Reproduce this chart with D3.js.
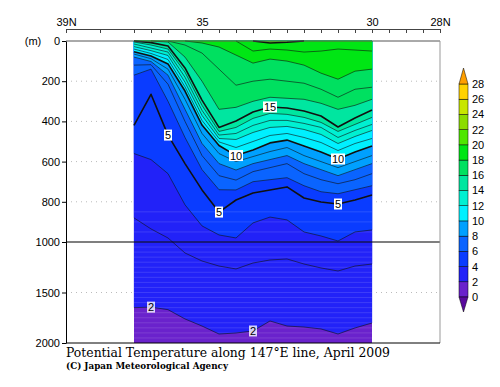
<!DOCTYPE html>
<html>
<head>
<meta charset="utf-8">
<script src="https://cdn.jsdelivr.net/npm/d3@7/dist/d3.min.js"></script>
<style>
  body { margin: 0; background: #fff; }
</style>
</head>
<body>
<div id="chart"></div>
<script>
// stations along the 147E line (deg N)
const lats = [37, 36.5, 36, 35.5, 35, 34.5, 34, 33.5, 33, 32.5, 32, 31.5, 31, 30.5, 30];

// depth (m) of each isotherm at each station, 0 = isotherm not present (outcropped)
const iso2  = [1650,1645,1670,1762,1832,1911,1901,1881,1782,1832,1842,1861,1911,1851,1802];
const iso3  = [880,935,980,1109,1188,1238,1267,1208,1178,1168,1218,1257,1287,1238,1218];
const iso4  = [560,590,660,815,920,965,980,905,876,890,950,970,995,950,940];
const iso5  = [420,265,468,610,741,851,791,756,741,726,781,801,811,791,766];
const iso6  = [170,140,300,480,640,740,741,700,690,680,720,750,760,740,720];
const iso7  = [120,118,215,400,570,670,692,650,630,610,660,690,710,690,660];
const iso8  = [80,102,170,340,510,610,642,610,590,570,610,640,670,640,610];
const iso9  = [65,88,140,290,460,560,600,575,550,530,570,600,630,600,570];
const iso10 = [53,75,114,249,418,520,570,542,507,493,522,552,587,552,522];
const iso11 = [40,62,92,228,395,502,530,500,470,460,480,505,545,510,485];
const iso12 = [28,48,72,205,370,485,490,455,430,425,440,465,510,475,445];
const iso13 = [15,35,55,180,345,468,460,420,395,395,410,430,480,445,415];
const iso14 = [5,20,40,155,320,450,430,385,360,365,380,405,450,415,380];
const iso15 = [0,8,25,134,294,430,398,353,328,333,348,373,428,383,343];
const iso16 = [0,0,5,80,200,340,330,300,280,285,290,310,340,320,290];
const iso17 = [0,0,0,20,60,140,220,200,190,200,210,240,280,240,230];
const iso18 = [0,0,0,0,10,30,70,110,90,100,120,160,190,150,140];
const iso19 = [0,0,0,0,0,0,0,50,40,45,55,50,40,45,50];
const iso20 = [0,0,0,0,0,0,0,0,10,6,0,0,0,0,0];

const isoLevels = [2,3,4,5,6,7,8,9,10,11,12,13,14,15,16,17,18,19,20];
const isoDepths = [iso2,iso3,iso4,iso5,iso6,iso7,iso8,iso9,iso10,iso11,iso12,iso13,iso14,iso15,iso16,iso17,iso18,iso19,iso20];

// contour labels: [level, station index]
const contourLabels = [[15,8],[10,6],[10,12],[5,2],[5,5],[5,12],[2,1],[2,7]];

const latTicks = [39,38,37,36.5,36,35.5,35,34.5,34,33.5,33,32.5,32,31.5,31,30.5,30,29.5,29,28.5,28];
const latLabels = {39:"39N", 35:"35", 30:"30", 28:"28N"};
const depthTicks = [0,200,400,600,800,1000,1500,2000];
const gridDepths = [200,400,600,800,1500];

// colour scale: <0, 0-2, 2-4, ... 26-28, >28
const colorLevels = [0,2,4,6,8,10,12,14,16,18,20,22,24,26,28];
const colors = ["#5a0a9e","#6a22cc","#2222f8","#0a3cff","#0a64ff","#00a0ff","#00f0ff","#00f0d2",
                "#00e6a0","#00e060","#00e614","#50e600","#8cdc00","#c8e600","#ffd200","#ff9f00"];

const sans = "'Liberation Sans', Arial, sans-serif";
const serif = "'DejaVu Serif', serif";

const W = 500, H = 387;
const svg = d3.select("#chart").append("svg")
  .attr("width", W).attr("height", H)
  .style("font-family", sans);

const x = d3.scaleLinear().domain([39, 28]).range([66, 440]);
const y = d3.scaleLinear().domain([0, 1000, 2000]).range([41, 242, 343]);

const bandColor = k => colors[Math.floor(k / 2) + 1];

// dotted grid lines
svg.append("g").selectAll("line")
  .data(gridDepths)
  .join("line")
    .attr("x1", 66).attr("x2", 440)
    .attr("y1", d => y(d)).attr("y2", d => y(d))
    .attr("stroke", "#bbb").attr("stroke-dasharray", "1,4");

// filled bands: background is the 0-2 class, then paint from surface down to each isotherm
const data = svg.append("g");
data.append("rect")
  .attr("x", x(lats[0])).attr("y", y(0))
  .attr("width", x(lats[lats.length - 1]) - x(lats[0]))
  .attr("height", y(2000) - y(0))
  .attr("fill", colors[1]);

const area = d3.area()
  .x((d, i) => x(lats[i]))
  .y0(y(0))
  .y1(d => y(d));

isoLevels.forEach((k, j) => {
  data.append("path")
    .datum(isoDepths[j])
    .attr("fill", bandColor(k))
    .attr("stroke", bandColor(k))
    .attr("stroke-width", 0.3)
    .attr("d", area);
});

// faint stripes seen in the deep part of the section
data.append("g").selectAll("line")
  .data(d3.range(850, 2000, 50))
  .join("line")
    .attr("x1", x(lats[0])).attr("x2", x(lats[lats.length - 1]))
    .attr("y1", d => y(d)).attr("y2", d => y(d))
    .attr("stroke", "#fff").attr("stroke-opacity", 0.18).attr("stroke-width", 0.7);

// contour lines
const line = d3.line()
  .defined((d, i, arr) => d > 0 || (i > 0 && arr[i - 1] > 0) || (i < arr.length - 1 && arr[i + 1] > 0))
  .x((d, i) => x(lats[i]))
  .y(d => y(d));

isoLevels.forEach((k, j) => {
  data.append("path")
    .datum(isoDepths[j])
    .attr("fill", "none")
    .attr("stroke", "#111")
    .attr("stroke-width", k % 5 === 0 ? 1.6 : 0.6)
    .attr("stroke-linejoin", "round")
    .attr("d", line);
});

// 1000 m line
svg.append("line")
  .attr("x1", 66).attr("x2", 440)
  .attr("y1", y(1000)).attr("y2", y(1000))
  .attr("stroke", "#000").attr("stroke-width", 1.2);

// contour labels
const lab = svg.append("g").selectAll("g")
  .data(contourLabels)
  .join("g")
    .attr("transform", d => `translate(${x(lats[d[1]])},${y(isoDepths[isoLevels.indexOf(d[0])][d[1]])})`);
lab.append("rect")
  .attr("x", d => d[0] >= 10 ? -7 : -4)
  .attr("y", -5.5)
  .attr("width", d => d[0] >= 10 ? 14 : 8)
  .attr("height", 11)
  .attr("fill", "#fff")
  .attr("fill-opacity", d => d[0] === 2 ? 0.8 : 1);
lab.append("text")
  .attr("text-anchor", "middle")
  .attr("dy", "0.36em")
  .attr("font-size", 11)
  .attr("fill", "#000")
  .text(d => d[0]);

// frame
svg.append("line").attr("x1", 66).attr("x2", 440).attr("y1", 41).attr("y2", 41).attr("stroke", "#555");
svg.append("line").attr("x1", 440).attr("x2", 440).attr("y1", 41).attr("y2", 343).attr("stroke", "#999");
svg.append("line").attr("x1", 66).attr("x2", 440).attr("y1", 343).attr("y2", 343).attr("stroke", "#000");

// top latitude axis
svg.append("g")
  .attr("transform", "translate(0,29)")
  .call(d3.axisTop(x).tickValues(latTicks).tickSize(-4).tickSizeOuter(0).tickPadding(3)
    .tickFormat(d => latLabels[d] || ""))
  .call(g => g.selectAll("text").attr("font-size", 11).attr("font-family", null).attr("fill", "#000"))
  .call(g => g.selectAll("line,path").attr("stroke", "#444"));

// left depth axis
svg.append("g")
  .attr("transform", "translate(66,0)")
  .call(d3.axisLeft(y).tickValues(depthTicks).tickSize(4).tickSizeOuter(0).tickPadding(2)
    .tickFormat(d3.format("d")))
  .call(g => g.selectAll("text").attr("font-size", 11).attr("font-family", null).attr("fill", "#000"))
  .call(g => g.selectAll("line,path").attr("stroke", "#000"));

svg.append("text")
  .attr("x", 33).attr("y", y(0)).attr("dy", "0.36em")
  .attr("text-anchor", "middle").attr("font-size", 11)
  .text("(m)");

// colour bar
const cy = d3.scaleLinear().domain([0, 28]).range([297, 84]);
const cbX = 459, cbW = 9;
const cb = svg.append("g");
colorLevels.slice(0, -1).forEach((v, i) => {
  cb.append("rect")
    .attr("x", cbX).attr("y", cy(v + 2))
    .attr("width", cbW).attr("height", cy(v) - cy(v + 2))
    .attr("fill", colors[i + 1])
    .attr("stroke", "#000").attr("stroke-width", 0.5);
});
cb.append("path")
  .attr("d", `M${cbX},${cy(0)}L${cbX + cbW},${cy(0)}L${cbX + cbW / 2},${cy(0) + 15}Z`)
  .attr("fill", colors[0]).attr("stroke", "#000").attr("stroke-width", 0.5);
cb.append("path")
  .attr("d", `M${cbX},${cy(28)}L${cbX + cbW},${cy(28)}L${cbX + cbW / 2},${cy(28) - 16}Z`)
  .attr("fill", colors[15]).attr("stroke", "#000").attr("stroke-width", 0.5);
cb.selectAll("text")
  .data(colorLevels)
  .join("text")
    .attr("x", cbX + cbW + 4)
    .attr("y", d => cy(d))
    .attr("dy", "0.36em")
    .attr("font-size", 11)
    .text(d => d);

// titles
svg.append("text")
  .attr("x", 66).attr("y", 357)
  .style("font-family", serif).attr("font-size", 12)
  .attr("textLength", 324).attr("lengthAdjust", "spacingAndGlyphs")
  .text("Potential Temperature along 147°E line, April 2009");
svg.append("text")
  .attr("x", 66).attr("y", 369)
  .style("font-family", serif).attr("font-size", 10).attr("font-weight", "bold")
  .attr("textLength", 162).attr("lengthAdjust", "spacingAndGlyphs")
  .text("(C) Japan Meteorological Agency");
</script>
</body>
</html>
